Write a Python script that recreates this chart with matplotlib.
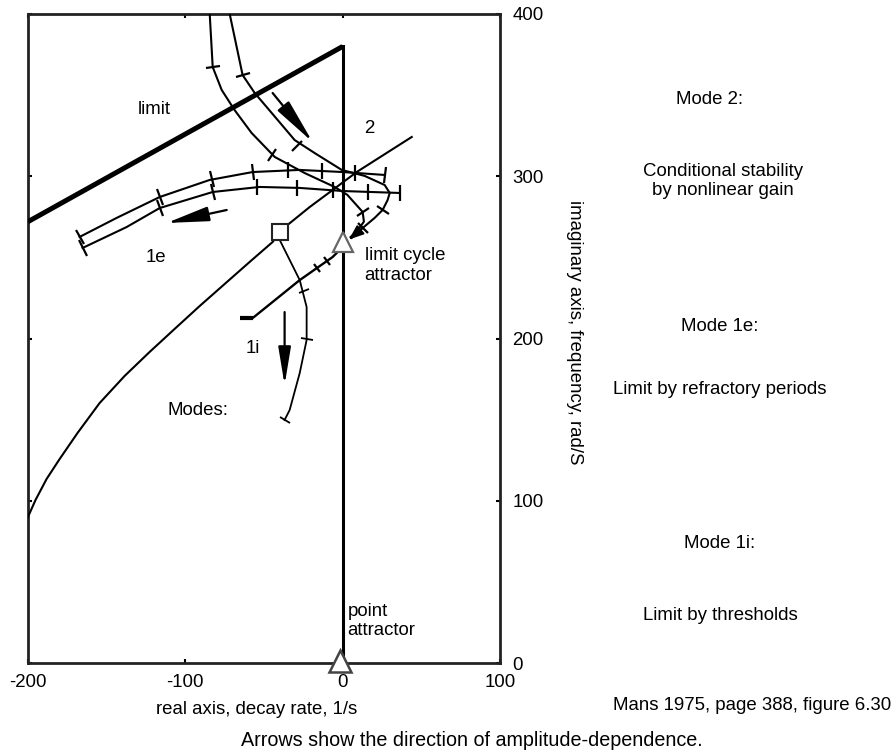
import numpy as np
import matplotlib
matplotlib.use('Agg')
import matplotlib.pyplot as plt
from matplotlib.markers import MarkerStyle
from matplotlib.transforms import Affine2D

plt.rcParams['font.family'] = ['Liberation Sans', 'DejaVu Sans']
plt.rcParams['axes.unicode_minus'] = False
FS = 13.4

# ---------------- data ----------------
x_ticks = [-200, -100, 0, 100]
y_ticks = [0, 100, 200, 300, 400]

limit_x = [-200, 0]
limit_y = [272, 380]
stab_x = [0, 0]
stab_y = [380, 0]

# Mode 2 (two curves from the top)
m2_in_x = [-84.5, -82.6, -76.9, -68.7, -57.9, -43.2, -24.2, -5.1, 3.0, 12.7, 13.5, 9.0, 5.0]
m2_in_y = [400, 367.3, 353.2, 340.8, 326.7, 311.9, 302.0, 293.4, 288.5, 278.0, 272.0, 266.0, 262.5]
m2_in_tx = [-82.6, -45.0, 12.7]
m2_in_ty = [367.3, 313.0, 278.0]
m2_out_x = [-71.8, -63.6, -55.9, -45.1, -30.5, -17.8, -0.6, 14.0, 26.7, 29.9, 28.6, 25.4, 20.3, 12.7, 5.7]
m2_out_y = [400, 362.4, 351.3, 339.0, 322.3, 314.3, 303.9, 300.2, 294.6, 289.7, 285.4, 279.2, 274.3, 268.1, 262.0]
m2_out_tx = [-63.6, -29.2, 25.4, 12.7]
m2_out_ty = [362.4, 318.5, 279.2, 268.1]

# Mode 1e (two nearly parallel curves)
e_up_x = [-167.2, -143.7, -116.3, -84.6, -57.2, -27.3, 0.0, 26.7]
e_up_y = [262.6, 274.3, 287.2, 297.7, 302.6, 303.9, 302.6, 300.8]
e_up_tx = [-167.2, -116.3, -83.3, -57.2, -35.0, -13.4, 7.6, 26.7]
e_up_ty = [262.6, 287.2, 298.0, 302.6, 304.0, 303.5, 302.3, 300.8]
e_lo_x = [-165.3, -137.3, -116.3, -82.6, -52.8, -27.3, 0.0, 36.2]
e_lo_y = [255.8, 268.7, 280.4, 290.3, 293.4, 292.8, 290.9, 289.7]
e_lo_tx = [-165.3, -116.3, -82.6, -54.7, -29.2, -6.4, 15.9, 36.2]
e_lo_ty = [255.8, 280.4, 290.3, 293.3, 292.9, 291.3, 290.4, 289.7]

# Long curve from lower left through the square
long_x = [-200.3, -195.2, -188.2, -179.9, -168.5, -154.5, -138.6, -122.7, -106.8, -90.9,
          -75.0, -59.1, -44.5, -40.0, -35.0, -21.0, -6.4, 8.9, 43.9]
long_y = [89.4, 100.5, 113.4, 125.7, 141.8, 160.2, 176.9, 191.7, 205.9, 220.0,
          233.6, 247.2, 259.5, 265.6, 270.0, 281.0, 291.5, 302.6, 324.2]
square_x = [-40.0]
square_y = [265.6]

# Mode 1i straight line to the limit-cycle attractor
i_line_x = [-57.2, -27.3, -6.4, 0.0]
i_line_y = [212.6, 236.0, 250.2, 256.4]
i_bar_x = [-65.5, -57.2]
i_bar_y = [212.6, 212.6]
i_line_tx = [-16.5, -10.2]
i_line_ty = [243.3, 247.6]

# Mode 1i curve from the square downwards
i_curve_x = [-40.0, -27.3, -22.9, -22.9, -27.3, -33.7, -36.9]
i_curve_y = [260.7, 236.0, 219.4, 199.1, 178.7, 155.9, 149.8]
i_curve_tx = [-24.8, -22.9, -36.9]
i_curve_ty = [229.0, 200.0, 149.8]

# attractors
lc_x, lc_y = [0.0], [259.5]
pa_x, pa_y = [-1.5], [1.5]

# direction arrows (start, end)
arr_m2 = ((-44.5, 351.3), (-19.1, 321.1))
arr_1e = ((-73.7, 279.2), (-111.9, 271.2))
arr_1i = ((-36.9, 216.3), (-36.9, 171.3))
arr_lc = ((12.7, 268.1), (4.0, 261.0))

# ---------------- figure ----------------
W, H = 893, 753
fig = plt.figure(figsize=(W / 100, H / 100), dpi=100)
ax = fig.add_axes([28 / W, 1 - 663 / H, (500 - 28) / W, (663 - 14) / H])
ax.set_xlim(-200, 100)
ax.set_ylim(0, 400)

for s in ax.spines.values():
    s.set_linewidth(2.0)
    s.set_color('#222222')

ax.set_xticks(x_ticks)
ax.set_yticks(y_ticks)
ax.tick_params(axis='x', direction='in', length=3, width=1.5, top=True, bottom=True,
               labelsize=FS, pad=8)
ax.tick_params(axis='y', direction='in', length=3, width=1.5, left=True, right=True,
               labelleft=False, labelright=True, labelsize=FS, pad=9)

lw = 1.5
ax.plot(limit_x, limit_y, color='k', lw=3.6, solid_capstyle='butt', zorder=3)
ax.plot(stab_x, stab_y, color='k', lw=2.2, zorder=3)
ax.plot(m2_in_x, m2_in_y, color='k', lw=lw, zorder=3)
ax.plot(m2_out_x, m2_out_y, color='k', lw=lw, zorder=3)
ax.plot(e_up_x, e_up_y, color='k', lw=lw, zorder=3)
ax.plot(e_lo_x, e_lo_y, color='k', lw=lw, zorder=3)
ax.plot(long_x, long_y, color='k', lw=1.5, zorder=3)
ax.plot(i_line_x, i_line_y, color='k', lw=1.7, zorder=3)
ax.plot(i_bar_x, i_bar_y, color='k', lw=3.0, solid_capstyle='butt', zorder=3)
ax.plot(i_curve_x, i_curve_y, color='k', lw=1.3, zorder=3)


def draw_ticks(cx, cy, tx, ty, size=10, mew=1.6):
    pts = ax.transData.transform(np.column_stack([cx, cy]))
    for x, y in zip(tx, ty):
        p = ax.transData.transform((x, y))
        d = np.hypot(pts[:, 0] - p[0], pts[:, 1] - p[1])
        i = int(np.argmin(d))
        i0, i1 = max(i - 1, 0), min(i + 1, len(pts) - 1)
        dx, dy = pts[i1] - pts[i0]
        ang = np.degrees(np.arctan2(dy, dx))
        m = MarkerStyle('|', transform=Affine2D().rotate_deg(ang))
        ax.plot([x], [y], marker=m, ms=size, mew=mew, color='k', ls='none', zorder=4)


draw_ticks(m2_in_x, m2_in_y, m2_in_tx, m2_in_ty)
draw_ticks(m2_out_x, m2_out_y, m2_out_tx, m2_out_ty)
draw_ticks(e_up_x, e_up_y, e_up_tx, e_up_ty, size=12)
draw_ticks(e_lo_x, e_lo_y, e_lo_tx, e_lo_ty, size=12)
draw_ticks(i_line_x, i_line_y, i_line_tx, i_line_ty, size=7)
draw_ticks(i_curve_x, i_curve_y, i_curve_tx, i_curve_ty, size=8, mew=1.3)

ax.plot(square_x, square_y, marker='s', ms=11, mfc='white', mec='#222222', mew=1.5,
        ls='none', zorder=6)
ax.plot(lc_x, lc_y, marker='^', ms=14, mfc='white', mec='#666666', mew=1.6,
        ls='none', zorder=6)
ax.plot(pa_x, pa_y, marker='^', ms=16, mfc='white', mec='#444444', mew=1.8,
        ls='none', zorder=6, clip_on=False)


def arrow(a, hl, hw, lw=1.6):
    (x0, y0), (x1, y1) = a
    ax.annotate('', xy=(x1, y1), xytext=(x0, y0),
                arrowprops=dict(arrowstyle='-|>,head_length=%g,head_width=%g' % (hl, hw),
                                mutation_scale=1, lw=lw, color='k',
                                shrinkA=0, shrinkB=0), zorder=5)


arrow(arr_m2, 28, 4.5)
arrow(arr_1e, 26, 4.5)
arrow(arr_1i, 23, 3.8)
arrow(arr_lc, 9, 3.5, lw=1.3)

# labels inside the plot
ax.text(-119.5, 341, 'limit', fontsize=FS, ha='center', va='center')
ax.text(16.6, 329.6, '2', fontsize=FS, ha='center', va='center')
ax.text(-119.0, 250, '1e', fontsize=FS, ha='center', va='center')
ax.text(-57.0, 194, '1i', fontsize=FS, ha='center', va='center')
ax.text(-92.0, 155.5, 'Modes:', fontsize=FS, ha='center', va='center')
ax.text(14.0, 245, 'limit cycle\nattractor', fontsize=FS, ha='left', va='center')
ax.text(3.0, 26, 'point\nattractor', fontsize=FS, ha='left', va='center')


def ftext(x, y, s, fs=FS, **kw):
    fig.text(x / W, 1 - y / H, s, fontsize=fs, **kw)


ftext(257, 710, 'real axis, decay rate, 1/s', ha='center', va='center')
ftext(575, 332, 'imaginary axis, frequency, rad/S', ha='center', va='center', rotation=-90)
ftext(709, 99, 'Mode 2:', ha='center', va='center')
ftext(723, 181, 'Conditional stability\nby nonlinear gain', ha='center', va='center')
ftext(720, 326, 'Mode 1e:', ha='center', va='center')
ftext(720, 390, 'Limit by refractory periods', ha='center', va='center')
ftext(720, 543, 'Mode 1i:', ha='center', va='center')
ftext(720, 615, 'Limit by thresholds', ha='center', va='center')
ftext(613, 706, 'Mans 1975, page 388, figure 6.30', ha='left', va='center')
ftext(472, 741, 'Arrows show the direction of amplitude-dependence.', fs=14.2,
      ha='center', va='center')

fig.savefig('out.png', dpi=100)
